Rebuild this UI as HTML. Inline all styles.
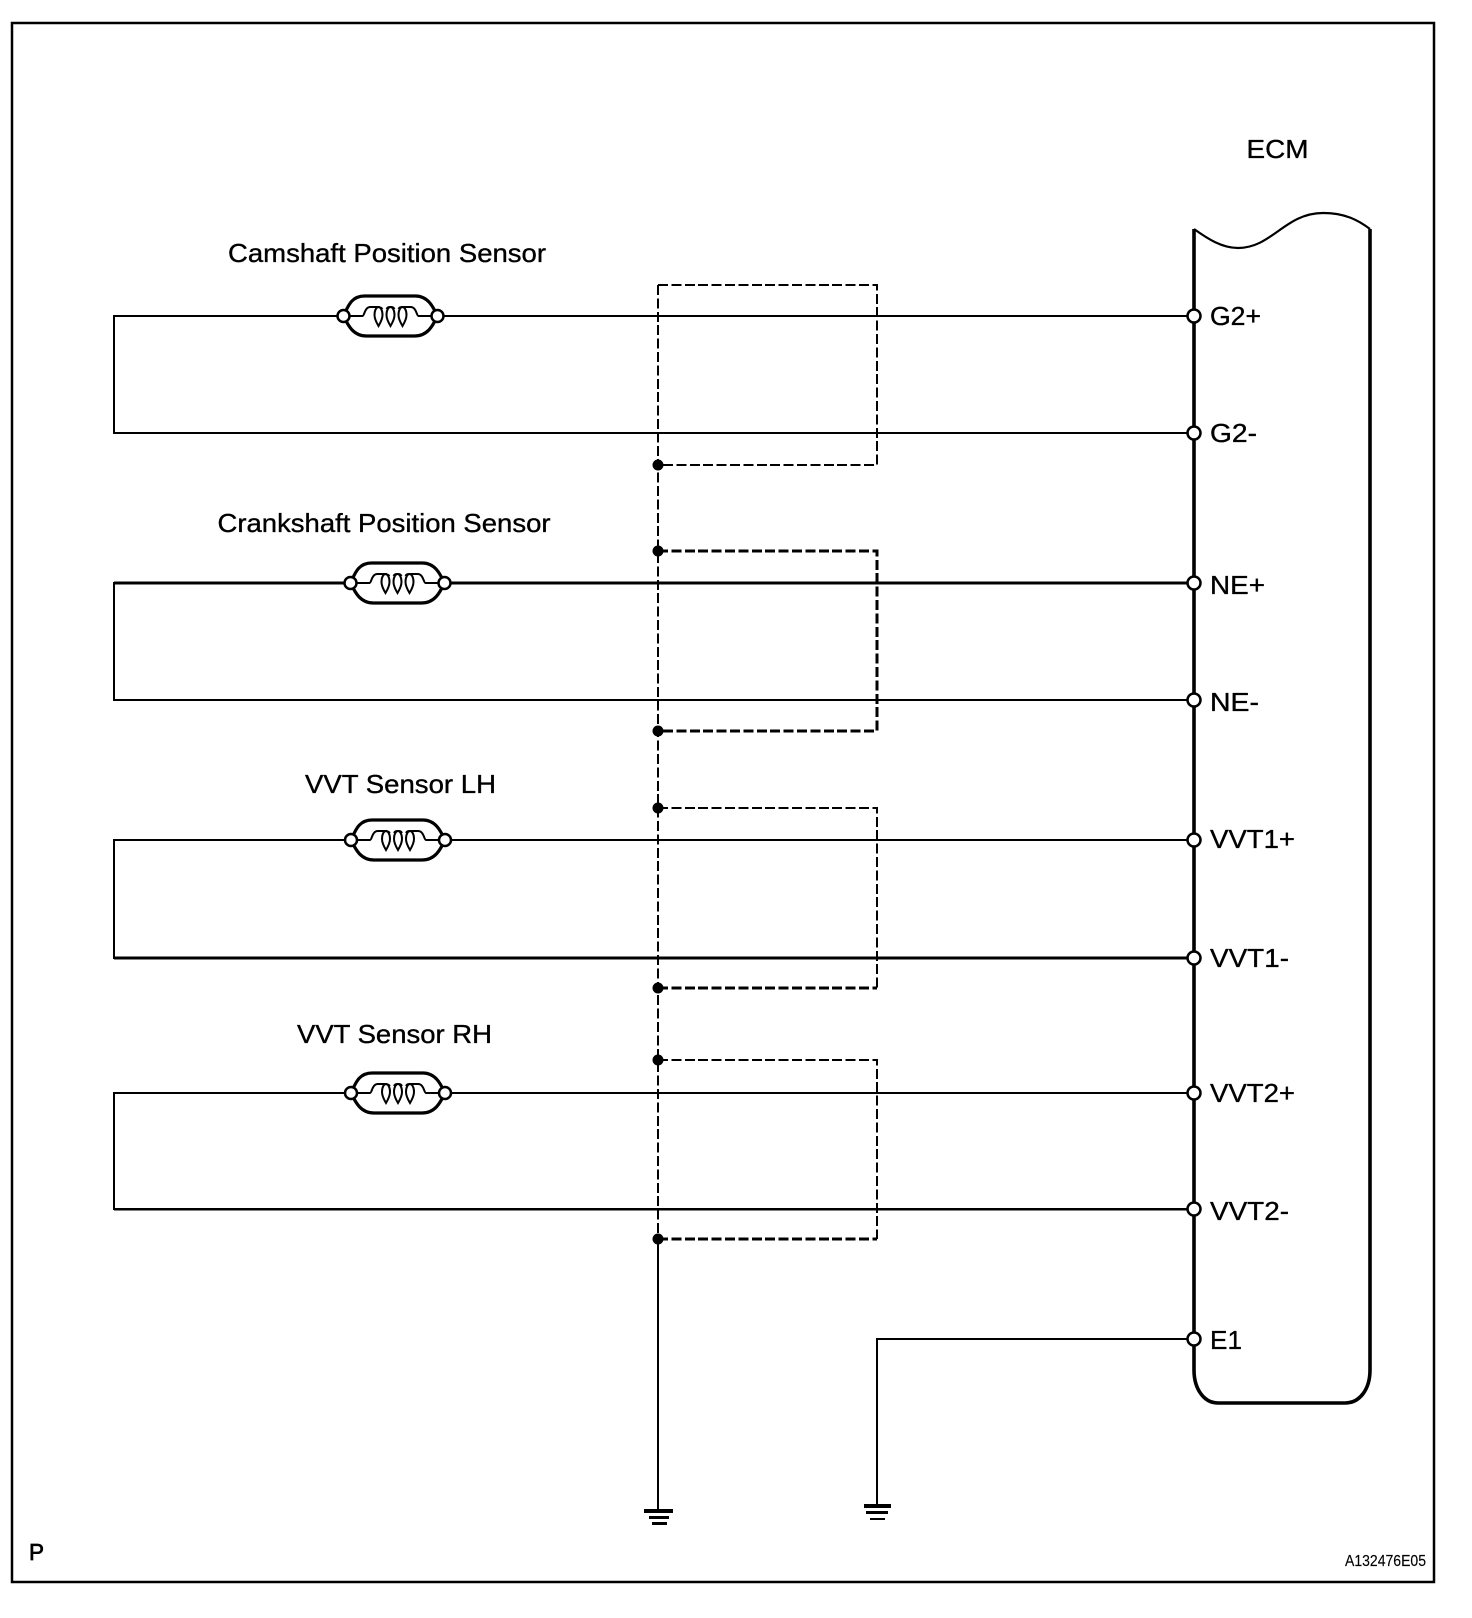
<!DOCTYPE html>
<html><head><meta charset="utf-8">
<style>
html,body{margin:0;padding:0;background:#fff}
svg{display:block}
text{font-family:"Liberation Sans",sans-serif;font-size:26px;fill:#000;stroke:#000;stroke-width:.35px}
</style></head><body>
<svg width="1472" height="1618" viewBox="0 0 1472 1618" xmlns="http://www.w3.org/2000/svg">
<defs>
<g id="s">
<path d="M-47 0 C-43 -8 -40 -20 -26 -20 H25 C38 -20 43 -8 47 0 C43 8 38 20 24 20 H-24 C-38 20 -43 8 -47 0 Z" fill="#fff" stroke="#000" stroke-width="3.2"/>
<path d="M-47 0 H-28 C-26 0 -26 -9 -20 -9 H-14 C-10 -9 -9 -8 -8 -7 M-4 -7 C-3 -9 -2 -9 0 -9 C2 -9 3 -9 4 -7 M8 -7 C9 -9 10 -9 14 -9 H20 C26 -9 26 0 28 0 H47" fill="none" stroke="#000" stroke-width="2"/>
<g fill="none" stroke="#000" stroke-width="2">
<path d="M-12 10 C-15 5 -16 2 -16 -1 C-16 -6 -14 -9 -12 -9 C-10 -9 -8 -6 -8 -1 C-8 2 -9 5 -12 10 Z"/>
<path d="M0 10 C-3 5 -4 2 -4 -1 C-4 -6 -2 -9 0 -9 C2 -9 4 -6 4 -1 C4 2 3 5 0 10 Z"/>
<path d="M12 10 C9 5 8 2 8 -1 C8 -6 10 -9 12 -9 C14 -9 16 -6 16 -1 C16 2 15 5 12 10 Z"/>
</g>
<circle cx="-47" cy="0" r="6" fill="#fff" stroke="#000" stroke-width="2.5"/>
<circle cx="47" cy="0" r="6" fill="#fff" stroke="#000" stroke-width="2.5"/>
</g>
</defs>
<rect width="1472" height="1618" fill="#fff"/>
<rect x="12" y="23" width="1422" height="1559" fill="none" stroke="#000" stroke-width="2.5"/>

<!-- wires -->
<g fill="none" stroke="#000" stroke-width="2" shape-rendering="crispEdges">
<path d="M1194 316H114V433H1194"/>
<path d="M1194 583H114V700H1194"/>
<path d="M1194 583H114" stroke-width="3"/>
<path d="M1194 840H114V958H1194"/>
<path d="M1194 958H114" stroke-width="3"/>
<path d="M1194 1093H114V1209H1194"/>
<path d="M1194 1209H114" stroke-width="2.5"/>
<path d="M1194 1339H877V1506"/>
<path d="M658 1239V1509"/>
</g>

<!-- shields -->
<g fill="none" stroke="#000" stroke-width="2" stroke-dasharray="10 3.4" shape-rendering="crispEdges">
<path d="M658 285V1239"/>
<path d="M658 285H877V465H658"/>
<path d="M658 551H877V731H658" stroke-width="3"/>
<path d="M658 808H877V988"/>
<path d="M658 1060H877V1239"/>
<path d="M658 988H877M658 1239H877" stroke-width="3"/>
</g>
<g fill="#000">
<circle cx="658" cy="465" r="5.5"/>
<circle cx="658" cy="551" r="5.5"/>
<circle cx="658" cy="731" r="5.5"/>
<circle cx="658" cy="808" r="5.5"/>
<circle cx="658" cy="988" r="5.5"/>
<circle cx="658" cy="1060" r="5.5"/>
<circle cx="658" cy="1239" r="5.5"/>
</g>

<!-- ECM -->
<path d="M1194 229 C1208 239 1222 248 1238 248 C1272 248 1285 213 1323 213 C1345 213 1358 220 1370 229" fill="none" stroke="#000" stroke-width="2.2"/>
<path d="M1194 229 V1370 C1194 1389 1204 1403 1218 1403 H1345 C1360 1403 1370 1389 1370 1370 V229" fill="none" stroke="#000" stroke-width="3.6"/>

<g fill="#fff" stroke="#000" stroke-width="2.5">
<circle cx="1194" cy="316" r="6.5"/>
<circle cx="1194" cy="433" r="6.5"/>
<circle cx="1194" cy="583" r="6.5"/>
<circle cx="1194" cy="700" r="6.5"/>
<circle cx="1194" cy="840" r="6.5"/>
<circle cx="1194" cy="958" r="6.5"/>
<circle cx="1194" cy="1093" r="6.5"/>
<circle cx="1194" cy="1209" r="6.5"/>
<circle cx="1194" cy="1339" r="6.5"/>
</g>

<!-- sensors -->
<use href="#s" x="390.5" y="316"/>
<use href="#s" x="397.5" y="583"/>
<use href="#s" x="398" y="840"/>
<use href="#s" x="398" y="1093"/>

<!-- grounds -->
<g fill="#000" shape-rendering="crispEdges">
<rect x="644" y="1509" width="29" height="4"/>
<rect x="649" y="1516" width="20" height="3"/>
<rect x="652" y="1522" width="15" height="3"/>
<rect x="864" y="1504" width="27" height="4"/>
<rect x="866" y="1511" width="22" height="3"/>
<rect x="870" y="1518" width="15" height="2"/>
</g>

<!-- labels -->
<text x="228" y="262" textLength="318" lengthAdjust="spacingAndGlyphs">Camshaft Position Sensor</text>
<text x="217.5" y="532" textLength="333" lengthAdjust="spacingAndGlyphs">Crankshaft Position Sensor</text>
<text x="305" y="793" textLength="191" lengthAdjust="spacingAndGlyphs">VVT Sensor LH</text>
<text x="297" y="1043" textLength="195" lengthAdjust="spacingAndGlyphs">VVT Sensor RH</text>
<text x="1246.5" y="158" textLength="62" lengthAdjust="spacingAndGlyphs">ECM</text>
<text x="1210" y="325" textLength="51" lengthAdjust="spacingAndGlyphs">G2+</text>
<text x="1210" y="442" textLength="47" lengthAdjust="spacingAndGlyphs">G2-</text>
<text x="1210" y="594" textLength="55" lengthAdjust="spacingAndGlyphs">NE+</text>
<text x="1210" y="711" textLength="49" lengthAdjust="spacingAndGlyphs">NE-</text>
<text x="1210" y="848" textLength="85" lengthAdjust="spacingAndGlyphs">VVT1+</text>
<text x="1210" y="967" textLength="79" lengthAdjust="spacingAndGlyphs">VVT1-</text>
<text x="1210" y="1102" textLength="85" lengthAdjust="spacingAndGlyphs">VVT2+</text>
<text x="1210" y="1220" textLength="79" lengthAdjust="spacingAndGlyphs">VVT2-</text>
<text x="1210" y="1349" textLength="32" lengthAdjust="spacingAndGlyphs">E1</text>
<text x="29" y="1560" style="font-size:23px;stroke-width:.7px" textLength="15" lengthAdjust="spacingAndGlyphs">P</text>
<text x="1345" y="1566" style="font-size:16px;stroke-width:.15px" textLength="81" lengthAdjust="spacingAndGlyphs">A132476E05</text>
</svg>
</body></html>
